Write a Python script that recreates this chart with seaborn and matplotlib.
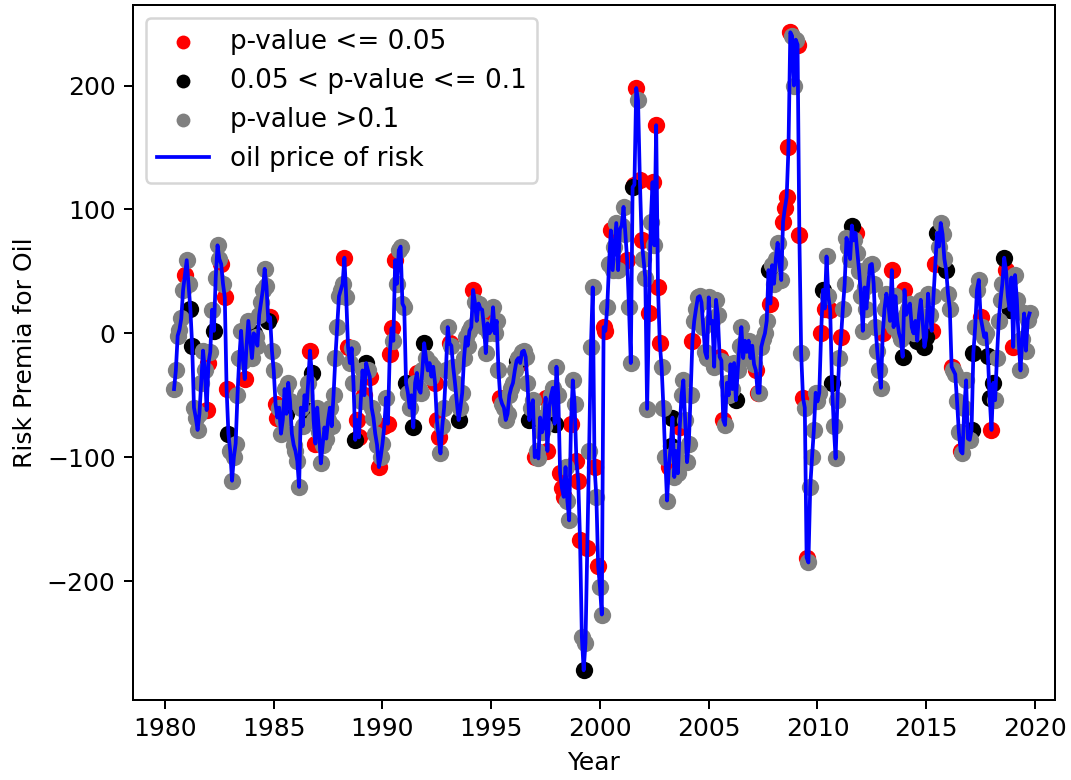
import numpy as np
import pandas as pd
import matplotlib
matplotlib.use("Agg")
import matplotlib.pyplot as plt
import seaborn as sns

# ---- data (monthly, first point = June 1980) ----
start_year = 1980
start_month_index = 5  # 0 = January

risk_1980s = [
    -45, -30, -2, 3, 12, 35, 47,                                  # 1980 Jun-Dec
    59, 40, 20, -10, -60, -68, -78, -65, -40, -14, -30, -62,      # 1981
    -24, -15, 19, 2, 45, 71, 60, 56, 40, 29, -45, -81,            # 1982
    -95, -119, -100, -89, -50, -20, 2, -22, -37, -10, 10, -5,     # 1983
    -20, 0, -3, -10, 15, 25, 35, 52, 38, 10, 13, -14,             # 1984
    -30, -57, -68, -60, -81, -70, -45, -65, -40, -55, -81, -90,   # 1985
    -95, -103, -124, -60, -75, -50, -62, -40, -14, -32, -70, -89, # 1986
    -60, -80, -105, -90, -76, -85, -70, -60, -75, -50, -20, 5,    # 1987
    30, 35, 40, 61, 29, -11, -24, -12, -40, -86, -70, -84,        # 1988
    -55, -30, -50, -24, -30, -35, -60, -68, -81, -90, -108, -100, # 1989
]
pval_1980s = ["ggggggr", "ggkkgggggggr", "rggkgggrgrrk", "ggggggggrggg",
              "gkgggggggkrg", "grrggggkgggg", "ggggggkgrkgr", "ggggkggggggg",
              "gggrgrgggkrr", "ggrkgrggggrg"]

risk_1990s = [
    -89, -75, -52, -73, -17, 4, -6, 59, 40, 67, 70, 24,           # 1990
    21, -40, -48, -60, -50, -76, -40, -32, -45, -48, -30, -8,     # 1991
    -20, -30, -24, -35, -27, -40, -70, -84, -97, -75, -60, -30,   # 1992
    5, -8, -10, -27, -40, -55, -70, -60, -48, -20, -3, -10,       # 1993
    2, 5, 35, 25, 10, 24, 20, 19, 5, -16, 8, 0,                   # 1994
    2, 21, 0, 10, -30, -52, -57, -60, -70, -65, -50, -44,         # 1995
    -40, -30, -22, -20, -24, -15, -14, -19, -40, -70, -60, -54,   # 1996
    -100, -95, -101, -68, -80, -75, -52, -95, -60, -50, -44, -73, # 1997
    -27, -50, -113, -125, -132, -108, -135, -151, -73, -38, -57, -103,  # 1998
    -119, -167, -245, -272, -250, -173, -95, -11, 37, -108, -132, -188, # 1999
]
pval_1990s = ["grgrrrgrgggg", "gkgggkgrgggk", "gggggrrrgggg", "grggggkggggg",
              "ggrgggggggrg", "gggggrgggggg", "ggkgrggggkgg", "rgggggrrgggk",
              "ggrrrgggrggr", "rrgkgrgggrgr"]

risk_2000s = [
    -205, -227, 5, 2, 21, 56, 83, 51, 70, 89, 51, 84,             # 2000
    87, 102, 80, 59, 21, -24, 118, 120, 198, 188, 124, 75,        # 2001
    60, 45, -61, 16, 90, 122, 71, 168, 37, -8, -27, -60,          # 2002
    -100, -135, -108, -91, -68, -116, -95, -113, -76, -50, -38, -70,  # 2003
    -104, -89, -50, -6, 10, 20, 29, 30, 25, 5, -15, -20,          # 2004
    29, 8, 10, -27, 27, 15, -19, -22, -70, -74, -40, -50,         # 2005
    -25, -45, -24, -54, -30, -10, 5, -20, -6, -15, -6, -20,       # 2006
    -10, -25, -30, -48, -48, -11, -5, 0, 10, 51, 24, 55,          # 2007
    40, 60, 73, 57, 43, 90, 101, 110, 150, 243, 240, 200,         # 2008
    237, 233, 79, -16, -52, -60, -181, -185, -124, -100, -78, -48,  # 2009
]
pval_2000s = ["ggrrggrggggg", "gggrggkrrgrr", "gggrgrgrrrgg", "ggrkkgggrggg",
              "gggrgggggggg", "grggggrgrggg", "gggkgggggggg", "ggrrgggggkrg",
              "gggggrrrrrgg", "grrgrgrggggg"]

risk_2010s = [
    -55, -48, 0, 35, 20, 62, 30, 19, -40, -75, -101, -54,         # 2010
    -20, -3, 20, 40, 77, 70, 60, 87, 75, 81, 65, 50,              # 2011
    30, 2, 37, 20, 40, 55, 56, 40, 5, -14, -30, -44,              # 2012
    0, 20, 32, 25, 10, 51, 5, 30, 10, 0, -5, -19,                 # 2013
    35, 15, 20, 24, 5, 0, 10, -6, 15, 27, 10, -11,                # 2014
    -3, 32, 15, 2, 30, 56, 81, 70, 89, 80, 60, 51,                # 2015
    32, 20, -27, -30, -33, -55, -80, -95, -97, -60, -38, -85,     # 2016
    -86, -78, -16, 5, 35, 43, 13, 5, -3, 0, -18, -52,             # 2017
    -78, -40, -54, -20, 10, 27, 40, 61, 51, 30, 19, 45,           # 2018
    -11, 47, 27, -6, -30, -5, 16, -14, 11, 16,                    # 2019 Jan-Oct
]
pval_2010s = ["ggrkrggrkggg", "grgggggkgrgg", "gggggggggggg", "rggggrgggggk",
              "rggggggkgggk", "kggrgrkggggk", "ggrggggrgggg", "gkkgggrgggkk",
              "rkgggggkrgkg", "rggggggggg"]

# ---- assemble ----
values = risk_1980s + risk_1990s + risk_2000s + risk_2010s
codes = "".join(pval_1980s + pval_1990s + pval_2000s + pval_2010s)
n = min(len(values), len(codes))
values = values[:n]
codes = codes[:n]
years = [start_year + (start_month_index + i) / 12.0 for i in range(n)]

labels = {"r": "p-value <= 0.05", "k": "0.05 < p-value <= 0.1", "g": "p-value >0.1"}
colors = {"r": "red", "k": "black", "g": "grey"}
df = pd.DataFrame({"year": years, "premia": values, "code": list(codes)})

dpi = 180
fig = plt.figure(figsize=(1071 / dpi, 780 / dpi), dpi=dpi)
ax = fig.add_axes([133 / 1071, 80 / 780, (1055 - 133) / 1071, (700 - 5) / 780])

for c in ["r", "k", "g"]:
    sub = df[df["code"] == c]
    sns.scatterplot(data=sub, x="year", y="premia", color=colors[c], s=48,
                    linewidth=0, label=labels[c], ax=ax, zorder=2)

sns.lineplot(data=df, x="year", y="premia", color="blue", linewidth=1.5,
             estimator=None, sort=False, label="oil price of risk", ax=ax, zorder=3)

ax.set_xlim(1978.53, 2020.92)
ax.set_ylim(-296, 265)
ax.set_xticks([1980, 1985, 1990, 1995, 2000, 2005, 2010, 2015, 2020])
ax.set_yticks([-200, -100, 0, 100, 200])
ax.tick_params(labelsize=10)
ax.set_xlabel("Year", fontsize=10)
ax.set_ylabel("Risk Premia for Oil", fontsize=10)
ax.legend(loc="upper left", fontsize=10.5, markerscale=0.8, framealpha=0.8)

fig.savefig("out.png", dpi=dpi)
